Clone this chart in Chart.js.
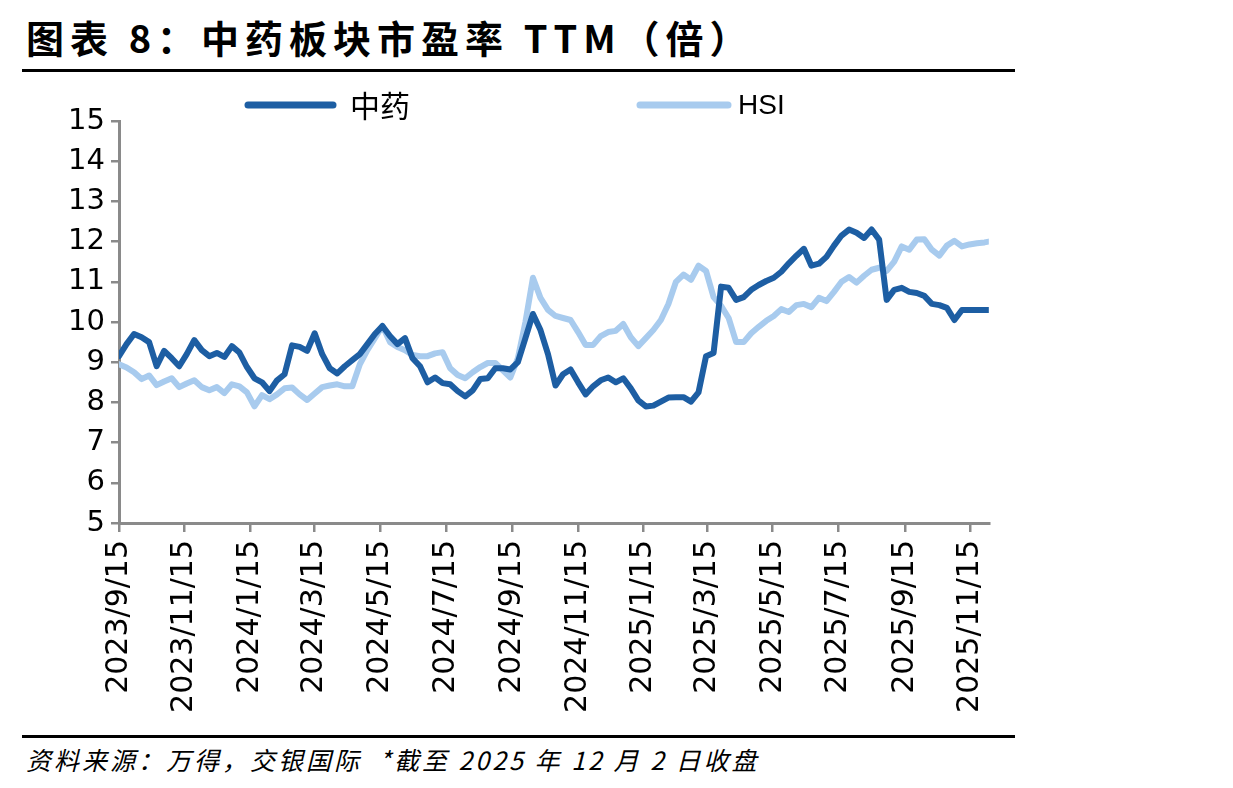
<!DOCTYPE html>
<html>
<head>
<meta charset="utf-8">
<script src="https://cdn.jsdelivr.net/npm/chart.js@4.4.1/dist/chart.umd.min.js"></script>
<style>
  html, body { margin: 0; padding: 0; background: #fff; }
  body { width: 1233px; height: 788px; position: relative; overflow: hidden; }
  #titulo {
    position: absolute; left: 26px; top: 9px;
    font-family: "Noto Sans CJK SC", sans-serif; font-weight: bold;
    font-size: 38px; letter-spacing: 6px; color: #000; white-space: nowrap;
  }
  .regua { position: absolute; left: 22px; width: 993px; height: 3px; background: #000; }
  #fonte {
    position: absolute; left: 26px; top: 741px;
    font-family: "Noto Sans CJK SC", sans-serif; font-style: italic;
    font-size: 25px; letter-spacing: 3px; color: #000; white-space: nowrap;
  }
  #caixa { position: absolute; left: 22px; top: 72px; width: 993px; height: 663px; }
</style>
</head>
<body>
<div id="titulo">图表 8：中药板块市盈率 TTM（倍）</div>
<div class="regua" style="top:69px"></div>
<div id="caixa"><canvas id="grafico"></canvas></div>
<div class="regua" style="top:735px"></div>
<div id="fonte">资料来源：万得，交银国际 &nbsp;*截至 2025 年 12 月 2 日收盘</div>

<script>
// dados (semanal, 2023/9/15 até 2025/12/2)
const inicio = '2023-09-15';
const fim = '2025-12-02';

const tickLabels = [
  '2023/9/15', '2023/11/15', '2024/1/15', '2024/3/15', '2024/5/15', '2024/7/15',
  '2024/9/15', '2024/11/15', '2025/1/15', '2025/3/15', '2025/5/15', '2025/7/15',
  '2025/9/15', '2025/11/15'
];

const zhongyao = [
  9.15, 9.45, 9.7, 9.62, 9.5, 8.9, 9.28, 9.1, 8.9, 9.2,
  9.55, 9.3, 9.15, 9.23, 9.13, 9.4, 9.24, 8.88, 8.6, 8.5,
  8.28, 8.55, 8.7, 9.42, 9.38, 9.28, 9.72, 9.2, 8.85, 8.72,
  8.9, 9.05, 9.2, 9.45, 9.7, 9.9, 9.65, 9.45, 9.6, 9.1,
  8.9, 8.5, 8.62, 8.48, 8.45, 8.28, 8.15, 8.3, 8.58, 8.6,
  8.85, 8.85, 8.82, 9.0, 9.6, 10.2, 9.8, 9.2, 8.42, 8.7,
  8.82, 8.5, 8.2, 8.4, 8.55, 8.62, 8.5, 8.6, 8.35, 8.05,
  7.9, 7.92, 8.02, 8.12, 8.13, 8.13, 8.02, 8.25, 9.15, 9.23,
  10.88, 10.85, 10.55, 10.62, 10.8, 10.92, 11.02, 11.1, 11.25, 11.46,
  11.65, 11.82, 11.4, 11.45, 11.62, 11.9, 12.15, 12.3, 12.22, 12.09,
  12.3, 12.05, 10.55, 10.8, 10.85, 10.75, 10.72, 10.65, 10.45, 10.42,
  10.35, 10.05, 10.3, 10.3, 10.3, 10.3, 10.3
];

const hsi = [
  8.95, 8.87, 8.75, 8.58, 8.67, 8.43, 8.52, 8.6, 8.38, 8.47,
  8.55, 8.38, 8.3, 8.38, 8.23, 8.45, 8.4, 8.25, 7.9, 8.18,
  8.08, 8.2, 8.35, 8.37, 8.2, 8.06, 8.22, 8.38, 8.42, 8.45,
  8.4, 8.4, 8.95, 9.3, 9.6, 9.9, 9.5, 9.38, 9.3, 9.18,
  9.15, 9.15, 9.22, 9.25, 8.85, 8.68, 8.6, 8.75, 8.88, 8.98,
  8.98, 8.8, 8.62, 9.1, 10.0, 11.1, 10.6, 10.3, 10.15, 10.1,
  10.05, 9.75, 9.43, 9.43, 9.65, 9.75, 9.78, 9.95, 9.62, 9.4,
  9.6, 9.8, 10.05, 10.45, 11.0, 11.18, 11.05, 11.4, 11.27, 10.62,
  10.4, 10.1, 9.5, 9.5, 9.72, 9.88, 10.03, 10.15, 10.32, 10.25,
  10.42, 10.45, 10.37, 10.6, 10.52, 10.75, 11.0, 11.12, 10.98, 11.15,
  11.3, 11.35, 11.27, 11.5, 11.88, 11.8, 12.05, 12.06, 11.8, 11.65,
  11.9, 12.02, 11.88, 11.93, 11.96, 11.98, 12.0
];

const DIA = 86400000;
function dias(txt) {
  const p = txt.split(/[-\/]/).map(Number);
  const t0 = inicio.split('-').map(Number);
  return Math.round((Date.UTC(p[0], p[1] - 1, p[2]) - Date.UTC(t0[0], t0[1] - 1, t0[2])) / DIA);
}

// eixo x em dias desde o início; uma observação por semana e a última em 2025/12/2
const fimDias = dias(fim);
const xs = zhongyao.map((_, i) => Math.min(i * 7, fimDias));
xs[xs.length - 1] = fimDias;
const tickDias = tickLabels.map(dias);

const pontos = vals => vals.map((v, i) => ({ x: xs[i], y: v }));

const corEscura = '#1d5ea3';
const corClara = '#a8cbee';
const cinza = '#8a8a8a';

// legenda desenhada à mão para ficar no mesmo lugar do original
const legendaManual = {
  id: 'legendaManual',
  afterDraw(chart) {
    const ctx = chart.ctx;
    const itens = [
      { x0: 226, x1: 311, tx: 328 },
      { x0: 618, x1: 706, tx: 716 }
    ];
    ctx.save();
    chart.data.datasets.forEach((ds, i) => {
      const it = itens[i];
      ctx.strokeStyle = ds.borderColor;
      ctx.lineWidth = 7;
      ctx.lineCap = 'round';
      ctx.beginPath();
      ctx.moveTo(it.x0, 33);
      ctx.lineTo(it.x1, 33);
      ctx.stroke();
      ctx.fillStyle = '#000';
      ctx.textBaseline = 'middle';
      ctx.font = i === 0 ? '30px "Noto Sans CJK SC"' : '28px "Liberation Sans"';
      ctx.fillText(ds.label, it.tx, 34);
    });
    ctx.restore();
  }
};

new Chart(document.getElementById('grafico').getContext('2d'), {
  type: 'line',
  data: {
    datasets: [
      {
        label: '中药',
        data: pontos(zhongyao),
        borderColor: corEscura,
        backgroundColor: corEscura,
        borderWidth: 6,
        borderJoinStyle: 'round',
        borderCapStyle: 'round',
        pointRadius: 0,
        tension: 0,
        fill: false
      },
      {
        label: 'HSI',
        data: pontos(hsi),
        borderColor: corClara,
        backgroundColor: corClara,
        borderWidth: 6,
        borderJoinStyle: 'round',
        borderCapStyle: 'round',
        pointRadius: 0,
        tension: 0,
        fill: false
      }
    ]
  },
  options: {
    responsive: true,
    maintainAspectRatio: false,
    animation: false,
    layout: { padding: { top: 49, right: 22, left: 0, bottom: 0 } },
    plugins: {
      legend: { display: false },
      tooltip: { enabled: false },
      title: { display: false }
    },
    scales: {
      x: {
        type: 'linear',
        min: 0,
        max: fimDias,
        afterBuildTicks: scale => { scale.ticks = tickDias.map(v => ({ value: v })); },
        afterFit: scale => { scale.height = 212; },
        border: { display: true, color: cinza, width: 3 },
        grid: { display: true, drawOnChartArea: false, drawTicks: true, tickLength: 9, color: cinza, lineWidth: 2.5 },
        ticks: {
          autoSkip: false,
          maxRotation: 90,
          minRotation: 90,
          padding: 8,
          color: '#000',
          font: { family: 'DejaVu Sans', size: 30 },
          callback: (v, i) => tickLabels[i]
        }
      },
      y: {
        min: 5,
        max: 15,
        afterFit: scale => { scale.width = 97; },
        border: { display: true, color: cinza, width: 3 },
        grid: { display: true, drawOnChartArea: false, drawTicks: true, tickLength: 8, color: cinza, lineWidth: 2.5 },
        ticks: {
          stepSize: 1,
          padding: 6,
          color: '#000',
          font: { family: 'DejaVu Sans', size: 29 }
        }
      }
    }
  },
  plugins: [legendaManual]
});
</script>
</body>
</html>
